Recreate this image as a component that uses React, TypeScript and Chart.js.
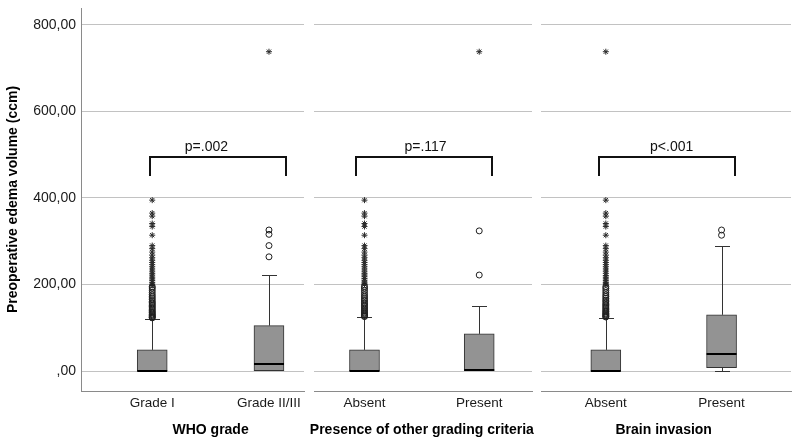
import React, { useEffect, useRef } from "react";
import { Chart, registerables } from "chart.js";

Chart.register(...registerables);

const FONT = "'Liberation Sans', Arial, Helvetica, sans-serif";

// ---- Y axis ----
const Y_TICKS = [0, 200, 400, 600, 800];
const Y_TICK_LABELS = [",00", "200,00", "400,00", "600,00", "800,00"];
const Y_MIN = -46;
const Y_MAX = 839;
const Y_TITLE = "Preoperative edema volume (ccm)";

// ---- Panels ----
const PANEL_TITLES = ["WHO grade", "Presence of other grading criteria", "Brain invasion"];
const WHO_CATEGORIES = ["Grade I", "Grade II/III"];
const CRITERIA_CATEGORIES = ["Absent", "Present"];
const INVASION_CATEGORIES = ["Absent", "Present"];
const P_VALUES = ["p=.002", "p=.117", "p<.001"];

// box statistics: [lower whisker, Q1, median, Q3, upper whisker]
const WHO_BOX = [
  [0, 0, 0, 49, 120],
  [0, 0, 17, 105, 222],
];
const CRITERIA_BOX = [
  [0, 0, 0, 49, 124],
  [0, 0, 3, 86, 150],
];
const INVASION_BOX = [
  [0, 0, 0, 49, 123],
  [0, 8, 40, 130, 290],
];

// outliers (circles) and extreme values (stars)
const WHO_CIRCLES = [
  [123, 124, 126, 128, 130, 132, 135, 137, 140, 143, 146, 149, 152, 155, 158, 161, 165, 169, 173, 177, 182, 187, 192, 195],
  [264, 290, 316, 326],
];
const WHO_STARS = [
  [198, 201, 205, 209, 213, 217, 222, 226, 231, 236, 241, 246, 251, 256, 262, 268, 275, 283, 290, 314, 334, 341, 358, 365, 395],
  [738],
];
const CRITERIA_CIRCLES = [
  [126, 127, 129, 131, 133, 135, 138, 140, 143, 146, 149, 152, 155, 158, 162, 165, 169, 173, 177, 182, 187, 192, 196],
  [222, 324],
];
const CRITERIA_STARS = [
  [200, 203, 206, 210, 214, 218, 222, 226, 231, 236, 241, 246, 251, 256, 262, 268, 275, 283, 290, 314, 334, 341, 358, 365, 395],
  [738],
];
const INVASION_CIRCLES = [
  [125, 126, 128, 130, 132, 134, 137, 139, 142, 145, 148, 151, 154, 157, 161, 164, 168, 172, 176, 181, 186, 191, 195],
  [314, 326],
];
const INVASION_STARS = [
  [199, 202, 205, 209, 213, 217, 221, 226, 231, 236, 241, 246, 251, 256, 262, 268, 275, 283, 290, 314, 334, 341, 358, 365, 395, 738],
  [],
];

// significance brackets in data units: [x left, x right, y top, y leg end, label x]
const WHO_BRACKET = [0.98, 2.145, 495, 451, 1.464];
const CRITERIA_BRACKET = [0.93, 2.115, 495, 451, 1.532];
const INVASION_BRACKET = [0.937, 2.12, 495, 451, 1.569];

type PanelProps = {
  left: number;
  width: number;
  padL: number;
  padR: number;
  showY: boolean;
  xMin: number;
  xMax: number;
  categories: string[];
  box: number[][];
  circles: number[][];
  stars: number[][];
  bracket: number[];
  pLabel: string;
  title: string;
};

function Panel(p: PanelProps) {
  const ref = useRef<HTMLCanvasElement>(null);
  useEffect(() => {
    const canvas = ref.current!;
    const boxData = p.box.map((b, i) => ({ x: i + 1, y: [b[1], b[3]] }));
    const circleData = p.circles.flatMap((arr, i) => arr.map((v) => ({ x: i + 1, y: v })));
    const starData = p.stars.flatMap((arr, i) => arr.map((v) => ({ x: i + 1, y: v })));

    const extras = {
      id: "boxExtras",
      beforeDatasetsDraw(chart: any) {
        const ctx = chart.ctx;
        const ys = chart.scales.y;
        const meta = chart.getDatasetMeta(0);
        ctx.save();
        ctx.strokeStyle = "#333";
        ctx.lineWidth = 1;
        p.box.forEach((b, i) => {
          const bar = meta.data[i];
          const px = Math.round(bar.x) + 0.5;
          const capHalf = bar.width / 4;
          const yq1 = ys.getPixelForValue(b[1]);
          const yq3 = ys.getPixelForValue(b[3]);
          const ylo = Math.round(ys.getPixelForValue(b[0])) + 0.5;
          const yhi = Math.round(ys.getPixelForValue(b[4])) + 0.5;
          ctx.beginPath();
          ctx.moveTo(px, yq3);
          ctx.lineTo(px, yhi);
          ctx.moveTo(px - capHalf, yhi);
          ctx.lineTo(px + capHalf, yhi);
          if (b[0] < b[1]) {
            ctx.moveTo(px, yq1);
            ctx.lineTo(px, ylo);
            ctx.moveTo(px - capHalf, ylo);
            ctx.lineTo(px + capHalf, ylo);
          }
          ctx.stroke();
        });
        ctx.restore();
      },
      afterDatasetsDraw(chart: any) {
        const ctx = chart.ctx;
        const xs = chart.scales.x;
        const ys = chart.scales.y;
        const meta = chart.getDatasetMeta(0);
        ctx.save();
        // medians
        ctx.strokeStyle = "#000";
        ctx.lineWidth = 2;
        p.box.forEach((b, i) => {
          const bar = meta.data[i];
          const y = Math.round(ys.getPixelForValue(b[2]));
          ctx.beginPath();
          ctx.moveTo(bar.x - bar.width / 2, y);
          ctx.lineTo(bar.x + bar.width / 2, y);
          ctx.stroke();
        });
        // bracket
        const bx1 = Math.round(xs.getPixelForValue(p.bracket[0]));
        const bx2 = Math.round(xs.getPixelForValue(p.bracket[1]));
        const by1 = Math.round(ys.getPixelForValue(p.bracket[2]));
        const by2 = Math.round(ys.getPixelForValue(p.bracket[3]));
        const tx = xs.getPixelForValue(p.bracket[4]);
        ctx.strokeStyle = "#111";
        ctx.lineWidth = 2;
        ctx.beginPath();
        ctx.moveTo(bx1, by2);
        ctx.lineTo(bx1, by1);
        ctx.lineTo(bx2, by1);
        ctx.lineTo(bx2, by2);
        ctx.stroke();
        ctx.fillStyle = "#111";
        ctx.font = `14px ${FONT}`;
        ctx.textAlign = "center";
        ctx.textBaseline = "alphabetic";
        ctx.fillText(p.pLabel, tx, by1 - 6);
        ctx.restore();
      },
      afterDraw(chart: any) {
        const ctx = chart.ctx;
        const xs = chart.scales.x;
        const cx = (xs.getPixelForValue(1) + xs.getPixelForValue(2)) / 2;
        ctx.save();
        ctx.fillStyle = "#000";
        ctx.font = `bold 14px ${FONT}`;
        ctx.textAlign = "center";
        ctx.textBaseline = "middle";
        ctx.fillText(p.title, cx, chart.chartArea.bottom + 39);
        ctx.restore();
      },
    };

    const chart = new Chart(canvas, {
      type: "bar",
      data: {
        datasets: [
          {
            type: "bar",
            data: boxData as any,
            backgroundColor: "#939393",
            borderColor: "#333",
            borderWidth: 1,
            borderSkipped: false,
            barThickness: 30,
            order: 2,
          } as any,
          {
            type: "scatter",
            data: circleData,
            pointStyle: "circle",
            pointRadius: 3,
            pointBorderWidth: 1,
            pointBorderColor: "#1e1e1e",
            pointBackgroundColor: "rgba(255,255,255,0)",
            order: 1,
          } as any,
          {
            type: "scatter",
            data: starData,
            pointStyle: "star",
            pointRadius: 3,
            pointBorderWidth: 1,
            pointBorderColor: "#2a2a2a",
            pointBackgroundColor: "#2a2a2a",
            order: 1,
          } as any,
        ],
      },
      options: {
        responsive: false,
        animation: false,
        devicePixelRatio: 1,
        layout: { padding: { left: p.padL, right: p.padR, top: 8, bottom: 0 } },
        plugins: { legend: { display: false }, tooltip: { enabled: false } },
        scales: {
          x: {
            type: "linear",
            min: p.xMin,
            max: p.xMax,
            offset: false,
            grid: { display: false, drawTicks: false, tickLength: 0 },
            border: { display: true, color: "#8a8a8a", width: 1 },
            ticks: {
              font: { family: FONT, size: 13.5 },
              color: "#1a1a1a",
              padding: 4,
              maxRotation: 0,
              autoSkip: false,
              callback: (_v: any, i: number) => p.categories[i],
            },
            afterBuildTicks: (s: any) => {
              s.ticks = [{ value: 1 }, { value: 2 }];
            },
            afterFit: (s: any) => {
              s.height = 54;
              s.paddingLeft = 0;
              s.paddingRight = 0;
            },
          },
          y: {
            type: "linear",
            min: Y_MIN,
            max: Y_MAX,
            grid: { display: true, color: "#c2c2c2", lineWidth: 1, drawTicks: false },
            border: { display: p.showY, color: "#8a8a8a", width: 1 },
            ticks: {
              display: p.showY,
              padding: 5,
              font: { family: FONT, size: 14 },
              color: "#1a1a1a",
              callback: (v: any) => Y_TICK_LABELS[Y_TICKS.indexOf(Number(v))],
            },
            afterBuildTicks: (s: any) => {
              s.ticks = Y_TICKS.map((v) => ({ value: v }));
            },
            afterFit: (s: any) => {
              s.width = p.showY ? 81 : 0;
              s.paddingTop = 0;
              s.paddingBottom = 0;
            },
            title: {
              display: p.showY,
              text: Y_TITLE,
              font: { family: FONT, size: 14, weight: "bold" },
              color: "#000",
              padding: { top: 5, bottom: 0 },
            },
          },
        },
      } as any,
      plugins: [extras],
    });
    return () => chart.destroy();
  }, []);

  return (
    <canvas
      ref={ref}
      width={p.width}
      height={445}
      style={{ position: "absolute", left: p.left, top: 0, width: p.width, height: 445, display: "block" }}
    />
  );
}

export default function App() {
  return (
    <div style={{ position: "absolute", left: 0, top: 0, width: 800, height: 445, background: "#fff", overflow: "hidden" }}>
      <Panel
        left={0}
        width={309}
        padL={0}
        padR={4}
        showY={true}
        xMin={0.39}
        xMax={2.3}
        categories={WHO_CATEGORIES}
        box={WHO_BOX}
        circles={WHO_CIRCLES}
        stars={WHO_STARS}
        bracket={WHO_BRACKET}
        pLabel={P_VALUES[0]}
        title={PANEL_TITLES[0]}
      />
      <Panel
        left={309}
        width={228}
        padL={4}
        padR={3}
        showY={false}
        xMin={0.56}
        xMax={2.46}
        categories={CRITERIA_CATEGORIES}
        box={CRITERIA_BOX}
        circles={CRITERIA_CIRCLES}
        stars={CRITERIA_STARS}
        bracket={CRITERIA_BRACKET}
        pLabel={P_VALUES[1]}
        title={PANEL_TITLES[1]}
      />
      <Panel
        left={536}
        width={264}
        padL={3}
        padR={9}
        showY={false}
        xMin={0.44}
        xMax={2.6}
        categories={INVASION_CATEGORIES}
        box={INVASION_BOX}
        circles={INVASION_CIRCLES}
        stars={INVASION_STARS}
        bracket={INVASION_BRACKET}
        pLabel={P_VALUES[2]}
        title={PANEL_TITLES[2]}
      />
    </div>
  );
}
